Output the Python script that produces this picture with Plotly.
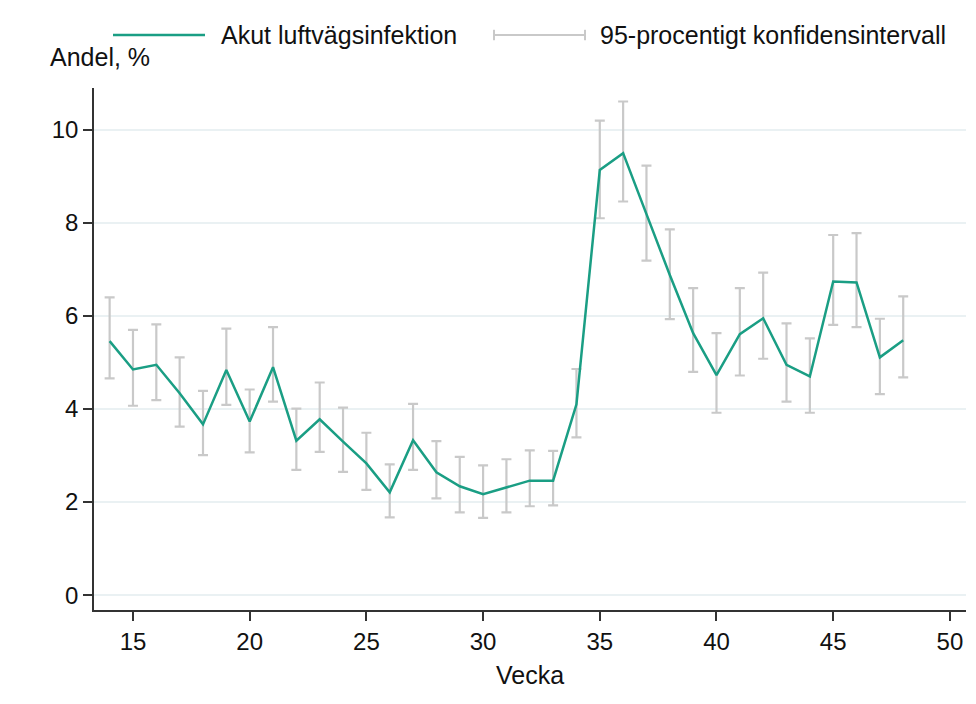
import plotly.graph_objects as go

vecka = list(range(14, 49))
andel = [5.46, 4.85, 4.95, 4.34, 3.67, 4.84, 3.73, 4.90, 3.32, 3.78, 3.30, 2.83,
         2.21, 3.33, 2.64, 2.34, 2.17, 2.31, 2.46, 2.46, 4.10, 9.14, 9.50, 8.19,
         6.88, 5.63, 4.73, 5.61, 5.95, 4.95, 4.70, 6.74, 6.72, 5.11, 5.48]
ci_hog = [6.40, 5.70, 5.82, 5.11, 4.39, 5.73, 4.42, 5.76, 4.01, 4.57, 4.03, 3.49,
          2.81, 4.11, 3.31, 2.97, 2.79, 2.92, 3.11, 3.10, 4.86, 10.20, 10.61, 9.23,
          7.86, 6.60, 5.63, 6.60, 6.93, 5.84, 5.52, 7.74, 7.78, 5.94, 6.42]
ci_lag = [4.66, 4.07, 4.19, 3.62, 3.01, 4.09, 3.07, 4.16, 2.69, 3.08, 2.65, 2.26,
          1.67, 2.69, 2.08, 1.78, 1.66, 1.78, 1.91, 1.93, 3.39, 8.10, 8.46, 7.19,
          5.93, 4.80, 3.92, 4.72, 5.08, 4.16, 3.92, 5.81, 5.76, 4.32, 4.68]

green = "#1a9e84"
grey = "#c9c9c9"
axcol = "#333333"
fnt = "Liberation Sans, Arial, sans-serif"

fig = go.Figure()
# konfidensintervall
fig.add_trace(go.Scatter(
    x=vecka, y=andel, mode="markers", marker=dict(size=0.1, opacity=0),
    showlegend=False, hoverinfo="skip",
    error_y=dict(type="data", symmetric=False,
                 array=[h - a for h, a in zip(ci_hog, andel)],
                 arrayminus=[a - l for a, l in zip(andel, ci_lag)],
                 color=grey, thickness=2.2, width=5)))
fig.add_trace(go.Scatter(x=vecka, y=andel, mode="lines", showlegend=False,
                         line=dict(color=green, width=2.5)))

# legend ritad för hand (paper-koordinater)
ly = 1.1015
legend_shapes = [
    dict(type="line", xref="paper", yref="paper", x0=0.0218, x1=0.1273, y0=ly, y1=ly,
         line=dict(color=green, width=2.5)),
    dict(type="line", xref="paper", yref="paper", x0=0.4587, x1=0.5631, y0=ly, y1=ly,
         line=dict(color=grey, width=2)),
    dict(type="line", xref="paper", yref="paper", x0=0.4587, x1=0.4587, y0=ly - 0.01, y1=ly + 0.01,
         line=dict(color=grey, width=2)),
    dict(type="line", xref="paper", yref="paper", x0=0.5631, x1=0.5631, y0=ly - 0.01, y1=ly + 0.01,
         line=dict(color=grey, width=2)),
]
legend_text = [
    dict(text="Akut luftvägsinfektion", x=0.1430, y=ly),
    dict(text="95-procentigt konfidensintervall", x=0.5780, y=ly),
]

annots = [dict(xref="paper", yref="paper", xanchor="left", yanchor="middle",
               showarrow=False, font=dict(size=25), **t) for t in legend_text]
annots.append(dict(text="Andel, %", x=-0.0528, y=1.0594, xref="paper", yref="paper",
                   xanchor="left", yanchor="middle", showarrow=False, font=dict(size=25)))

# sidans body-marginal (8 px) dras av
fig.update_layout(
    width=968, height=696,
    paper_bgcolor="white", plot_bgcolor="white",
    font=dict(family=fnt, size=24, color="#111111"),
    margin=dict(l=86, r=10, t=80, b=94),
    showlegend=False,
    shapes=legend_shapes,
    annotations=annots,
    xaxis=dict(range=[13.33, 50.69], tickvals=list(range(15, 51, 5)),
               tickfont=dict(size=24),
               showgrid=False, showline=True, linecolor=axcol, linewidth=1.5,
               ticks="outside", ticklen=9, tickcolor=axcol, tickwidth=1.5, zeroline=False,
               title=dict(text="Vecka", standoff=13, font=dict(size=25))),
    yaxis=dict(range=[-0.32, 10.9], tickvals=[0, 2, 4, 6, 8, 10],
               tickfont=dict(size=24),
               showgrid=True, gridcolor="#eaf1f3", gridwidth=1.5,
               showline=True, linecolor=axcol, linewidth=1.5,
               ticks="outside", ticklen=9, tickcolor=axcol, tickwidth=1.5, zeroline=False),
)

fig.write_html("out.html")
